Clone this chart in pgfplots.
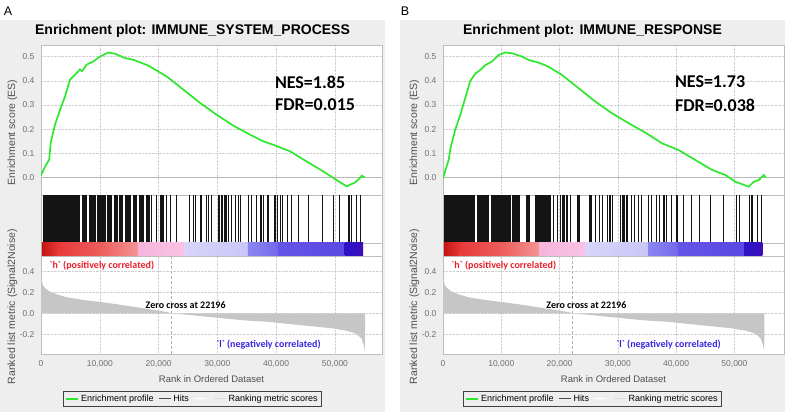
\documentclass[border=0pt]{standalone}
\usepackage{fontspec}
\setmainfont{Liberation Sans}
\newfontfamily\carlito{Carlito}
\usepackage{pgfplots}
\pgfplotsset{compat=1.18}
\usepackage{pgfplotstable}
\definecolor{panelbg}{HTML}{EEEEEE}
\definecolor{framegray}{HTML}{BDBDBD}
\definecolor{gridgray}{HTML}{CFCFCF}
\definecolor{tickgray}{HTML}{707070}
\definecolor{labgray}{HTML}{505050}
\definecolor{esgreen}{HTML}{2EE82E}
\definecolor{hitgray}{HTML}{141414}
\definecolor{rankfill}{HTML}{C6C6C6}
\definecolor{txtred}{HTML}{E8202A}
\definecolor{txtblue}{HTML}{3A28E0}
\definecolor{cb1}{HTML}{C41414}
\definecolor{cb2}{HTML}{E83A3A}
\definecolor{cb3}{HTML}{EE5C5C}
\definecolor{cb4}{HTML}{F49494}
\definecolor{cb5}{HTML}{F7B4DC}
\definecolor{cb6}{HTML}{F9C2E4}
\definecolor{cb7}{HTML}{D8D4FA}
\definecolor{cb8}{HTML}{C8C6F6}
\definecolor{cb9}{HTML}{8A86F0}
\definecolor{cb10}{HTML}{7468EC}
\definecolor{cb11}{HTML}{6654E8}
\definecolor{cb12}{HTML}{5A48E4}
\definecolor{cb13}{HTML}{2C12C8}
\definecolor{cb14}{HTML}{3A10B8}

\pgfplotstableread{
x y
0 0.01
680 0.045
1400 0.075
1650 0.145
2400 0.22
3230 0.28
4080 0.335
4930 0.405
5780 0.425
6630 0.447
7000 0.44
7770 0.467
8900 0.48
10030 0.50
11450 0.517
12580 0.512
14290 0.494
15700 0.487
18250 0.463
21370 0.418
24200 0.364
27040 0.309
29880 0.26
32700 0.215
35540 0.178
37800 0.15
39500 0.136
42350 0.109
45180 0.067
48010 0.026
49710 -0.001
51990 -0.036
52500 -0.03
53400 -0.02
53960 -0.008
54540 0.008
55100 0.001
}\esA

\pgfplotstableread{
x y
0 -0.003
400 0.03
970 0.073
1260 0.12
2120 0.20
2970 0.26
3830 0.33
4690 0.40
5550 0.43
6410 0.445
7270 0.465
8410 0.48
9550 0.507
10700 0.517
11840 0.514
13560 0.50
14700 0.486
16420 0.475
18130 0.458
20420 0.424
23280 0.369
26140 0.314
29000 0.266
31860 0.225
34720 0.186
37580 0.142
40440 0.114
43300 0.073
46160 0.032
48450 0.011
50170 -0.017
52460 -0.037
53310 -0.017
54170 -0.01
55030 0.011
55400 0
}\esB

\pgfplotstableread{
x y
0 0
0 0.37
150 0.30
400 0.26
700 0.24
1500 0.205
2950 0.175
4370 0.152
7200 0.127
10000 0.108
12900 0.086
15700 0.063
18500 0.038
21400 0.013
22196 0
24200 -0.01
27000 -0.025
29900 -0.041
32700 -0.057
35500 -0.07
38400 -0.079
41200 -0.095
44000 -0.111
46900 -0.127
49700 -0.143
52000 -0.165
53200 -0.185
53700 -0.197
54500 -0.238
54900 -0.30
55100 -0.36
55150 0
}\rankmetric

\pgfplotsset{
  legend image code/.code={\draw[#1] (0pt,0pt) -- (12pt,0pt);},
  gsea/.style={scale only axis, width=341pt, xmin=0,
    axis line style={framegray},
    major tick length=0pt, tick style={draw=none},
    grid style={densely dotted, gridgray, line width=0.4pt},
    axis background/.style={fill=white},
    tick label style={font=\fontsize{8.5}{9}\selectfont, text=tickgray},
    /pgf/number format/assume math mode=true,
    scaled x ticks=false, scaled y ticks=false,
    xtick={0,10000,20000,30000,40000,50000},
    yticklabel style={xshift=-3pt},
  },
}

% #1 axis left, #2 xmax, #3 gray left, #4 gray right, #5 title, #6 ES table, #7 hits, #8 NES, #9 FDR
\newcommand{\gseapanel}[9]{%
\pgfmathsetmacro\gc{(#3+#4)/2}%
\pgfmathsetmacro\lx{(\gc-#1)/341}%
\pgfmathsetmacro\axc{#1+170.5}%
\pgfmathsetmacro\ylx{#1-28.5}%
\fill[panelbg] (#3,3) rectangle (#4,395);
\node[font=\bfseries\fontsize{14}{16}\selectfont] at (\gc,384) {#5};
\node[rotate=90, font=\fontsize{10.5}{12}\selectfont, text=labgray] at (\ylx,282.5) {Enrichment score (ES)};
\node[rotate=90, font=\fontsize{10.5}{12}\selectfont, text=labgray] at (\ylx,108.3) {Ranked list metric (Signal2Noise)};
\node[font=\fontsize{9.5}{11}\selectfont, text=labgray] at (\axc,36) {Rank in Ordered Dataset};
% ES panel
\begin{axis}[gsea, at={(#1pt,370pt)}, anchor=north west, height=150pt, xmax=#2,
  ymin=-0.0715, ymax=0.548, ytick={0,0.1,0.2,0.3,0.4,0.5}, xticklabels={},
  xmajorgrids, ymajorgrids,
  yticklabel style={/pgf/number format/.cd, fixed, fixed zerofill, precision=1}]
\addplot[gray!55, line width=0.6pt, forget plot] coordinates {(0,0) (#2,0)};
\addplot[esgreen, line width=1.7pt, forget plot] table {#6};
\node[anchor=west, font=\carlito\bfseries\fontsize{18}{20}\selectfont] at (axis cs:39200,0.395) {#8};
\node[anchor=west, font=\carlito\bfseries\fontsize{18}{20}\selectfont] at (axis cs:39200,0.30) {#9};
\end{axis}
% hits panel
\begin{axis}[gsea, at={(#1pt,220pt)}, anchor=north west, height=48pt, xmax=#2,
  ymin=0, ymax=1, ytick=\empty, xticklabels={}, xmajorgrids]
\addplot[ycomb, hitgray, line width=0.8pt, mark=none, forget plot] coordinates {#7};
\end{axis}
% colour bar
\begin{axis}[gsea, at={(#1pt,172pt)}, anchor=north west, height=13pt, xmax=#2,
  ymin=0, ymax=1, ytick=\empty, xtick=\empty]
\addplot[draw=none, left color=cb1, right color=cb2, forget plot] coordinates {(170,0)(170,1)(3000,1)(3000,0)} -- cycle;
\addplot[draw=none, left color=cb2, right color=cb3, forget plot] coordinates {(3000,0)(3000,1)(10000,1)(10000,0)} -- cycle;
\addplot[draw=none, left color=cb3, right color=cb4, forget plot] coordinates {(10000,0)(10000,1)(16500,1)(16500,0)} -- cycle;
\addplot[draw=none, left color=cb5, right color=cb6, forget plot] coordinates {(16500,0)(16500,1)(24430,1)(24430,0)} -- cycle;
\addplot[draw=none, left color=cb7, right color=cb8, forget plot] coordinates {(24430,0)(24430,1)(35200,1)(35200,0)} -- cycle;
\addplot[draw=none, left color=cb9, right color=cb10, forget plot] coordinates {(35200,0)(35200,1)(40300,1)(40300,0)} -- cycle;
\addplot[draw=none, left color=cb11, right color=cb12, forget plot] coordinates {(40300,0)(40300,1)(51650,1)(51650,0)} -- cycle;
\addplot[draw=none, left color=cb13, right color=cb14, forget plot] coordinates {(51650,0)(51650,1)(54800,1)(54800,0)} -- cycle;
\end{axis}
% ranking metric panel
\begin{axis}[gsea, at={(#1pt,159pt)}, anchor=north west, height=98pt, xmax=#2,
  ymin=-0.385, ymax=0.543, ytick={-0.2,0,0.2,0.4},
  xmajorgrids, ymajorgrids,
  xticklabel style={yshift=-3pt, /pgf/number format/.cd, 1000 sep={,}},
  yticklabel style={/pgf/number format/.cd, fixed, fixed zerofill, precision=1},
  legend columns=4,
  legend style={at={(\lx,-0.3776)}, anchor=north, draw=black!75, fill=panelbg,
    font=\fontsize{9}{10}\selectfont, inner xsep=2pt, inner ysep=1.5pt,
    /tikz/every even column/.append style={column sep=3pt}},
  legend cell align=left]
\addplot[fill=rankfill, draw=none, forget plot] table {\rankmetric} -- cycle;
\addplot[densely dashed, gray!60, line width=0.5pt, forget plot] coordinates {(22196,-0.385) (22196,0.543)};
\node[anchor=west, text=txtred, font=\carlito\bfseries\fontsize{10}{12}\selectfont] at (axis cs:850,0.457) {\textasciigrave h\textasciigrave{} (positively correlated)};
\node[text=black, font=\carlito\bfseries\fontsize{10}{12}\selectfont] at (axis cs:24600,0.08) {Zero cross at 22196};
\node[text=txtblue, font=\carlito\bfseries\fontsize{10}{12}\selectfont] at (axis cs:38700,-0.30) {\textasciigrave l\textasciigrave{} (negatively correlated)};
\addlegendimage{esgreen, line width=1.8pt}\addlegendentry{Enrichment profile}
\addlegendimage{black!70, line width=0.8pt}\addlegendentry{Hits}
\addlegendimage{white, line width=0.8pt}\addlegendentry{}
\addlegendimage{gray!30, line width=0.8pt}\addlegendentry{Ranking metric scores}
\end{axis}
}

\begin{document}
\begin{tikzpicture}[x=1pt,y=1pt]
\useasboundingbox (0,0) rectangle (785,415);
\fill[white] (0,0) rectangle (785,415);
\node[font=\fontsize{12.5}{14}\selectfont] at (8,403.5) {A};
\node[font=\fontsize{12.5}{14}\selectfont] at (405,403.5) {B};
\gseapanel{41}{58000}{0}{385}{Enrichment plot: IMMUNE\_SYSTEM\_PROCESS}{\esA}{(350,1)(460,1)(570,1)(680,1)(790,1)(900,1)(1010,1)(1120,1)(1230,1)(1340,1)(1450,1)(1560,1)(1670,1)(1780,1)(1890,1)(2000,1)(2110,1)(2220,1)(2330,1)(2440,1)(2550,1)(2660,1)(2770,1)(2880,1)(2990,1)(3100,1)(3210,1)(3320,1)(3430,1)(3540,1)(3650,1)(3760,1)(3870,1)(3980,1)(4090,1)(4200,1)(4310,1)(4420,1)(4530,1)(4640,1)(4750,1)(4860,1)(4970,1)(5080,1)(5190,1)(5300,1)(5410,1)(5520,1)(5630,1)(5740,1)(5850,1)(5960,1)(6070,1)(6180,1)(6290,1)(6400,1)(6520,1)
(7020,1)(7130,1)(7240,1)(7350,1)(7460,1)(7570,1)(7680,1)(7790,1)(8150,1)(8260,1)(8370,1)(8480,1)(8590,1)(8700,1)(8810,1)(8920,1)(9030,1)(9140,1)(9250,1)(9550,1)(9660,1)(9770,1)(9880,1)(9990,1)(10100,1)(10210,1)(10320,1)(10430,1)(10540,1)(10650,1)(10760,1)(10870,1)(11250,1)(11360,1)(11470,1)(11580,1)(11690,1)(11800,1)(11910,1)(12020,1)(12400,1)(12510,1)(12620,1)(12730,1)(12840,1)(12950,1)(13250,1)(13360,1)(13470,1)(13580,1)(13690,1)(13800,1)(13910,1)
(14340,1)(14450,1)(14560,1)(14670,1)(14780,1)(14890,1)(15000,1)(15110,1)(15220,1)
(15650,1)(15800,1)(15950,1)(16100,1)(16250,1)(16700,1)(16850,1)(17000,1)(17150,1)(17300,1)(17450,1)(17850,1)(18000,1)(18150,1)(18300,1)(18450,1)(18830,1)
(19680,1)(20240,1)(20400,1)(20600,1)(20800,1)(21380,1)(21940,1)(23080,1)(25220,1)(25900,1)(26190,1)(27040,1)(27330,1)(28180,1)(28450,1)(29030,1)(30150,1)(30400,1)(30650,1)(30900,1)(31150,1)(31400,1)(31600,1)(31850,1)(32430,1)(32990,1)(33550,1)(33840,1)(35260,1)(35830,1)(36680,1)(37240,1)(37500,1)(37870,1)(38440,1)(38720,1)(39740,1)(39950,1)(40140,1)(40700,1)(41100,1)(41840,1)(42570,1)(43830,1)(45530,1)(47910,1)(49780,1)(50730,1)(52210,1)(52450,1)(52770,1)(53570,1)(54300,1)}{NES=1.85}{FDR=0.015}
\gseapanel{443}{58500}{400}{785}{Enrichment plot: IMMUNE\_RESPONSE}{\esB}{(170,1)(280,1)(390,1)(500,1)(610,1)(720,1)(830,1)(940,1)(1050,1)(1160,1)(1270,1)(1380,1)(1490,1)(1600,1)(1710,1)(1820,1)(1930,1)(2040,1)(2150,1)(2260,1)(2370,1)(2480,1)(2590,1)(2700,1)(2810,1)(2920,1)(3030,1)(3140,1)(3250,1)(3360,1)(3470,1)(3580,1)(3690,1)(3800,1)(3910,1)(4020,1)(4130,1)(4240,1)(4350,1)(4460,1)(4570,1)(4680,1)(4790,1)(4900,1)(5010,1)(5120,1)(5230,1)(5340,1)(5450,1)
(5890,1)(6000,1)(6110,1)(6220,1)(6330,1)(6440,1)(6550,1)(6660,1)(6770,1)(6880,1)(6990,1)(7100,1)(7210,1)(7320,1)(7430,1)(7540,1)(7650,1)(7760,1)(7870,1)
(8360,1)(8470,1)(8580,1)(8690,1)(8800,1)(8910,1)(9020,1)(9130,1)(9240,1)(9350,1)(9460,1)(9570,1)(9680,1)(9790,1)(9900,1)(10010,1)(10120,1)(10230,1)(10340,1)(10450,1)(10560,1)(10670,1)(10780,1)(10890,1)(11000,1)(11110,1)(11220,1)(11330,1)(11440,1)(11550,1)
(11970,1)(12080,1)(12190,1)(12300,1)(12410,1)(12520,1)(12630,1)(12740,1)(12850,1)(12960,1)(13070,1)
(14260,1)(14370,1)(14480,1)(14590,1)(14700,1)(14810,1)
(15800,1)(15910,1)(16020,1)(16130,1)(16240,1)(16350,1)(16460,1)(16570,1)(16680,1)(16790,1)(16900,1)(17010,1)(17120,1)(17230,1)(17340,1)(17450,1)(17560,1)(17670,1)(17780,1)(17890,1)(18000,1)(18110,1)(18220,1)(18330,1)(18440,1)
(19020,1)(19590,1)(20160,1)(20400,1)(20650,1)(20900,1)(21100,1)(21310,1)(21870,1)(23020,1)(23170,1)(23320,1)(25140,1)(25300,1)(25480,1)(26170,1)(26750,1)(27320,1)(28180,1)(28470,1)(28750,1)(29040,1)(30470,1)(30700,1)(30950,1)(31200,1)(31400,1)(31620,1)(32300,1)(32870,1)(33550,1)(34020,1)(35170,1)(35740,1)(36600,1)(37170,1)(37740,1)(38000,1)(38320,1)
(39120,1)(39980,1)(40260,1)(41290,1)(42660,1)(43990,1)(45880,1)(48160,1)(50290,1)(50860,1)(52580,1)(52850,1)(53150,1)(54010,1)(54690,1)}{NES=1.73}{FDR=0.038}
\end{tikzpicture}
\end{document}
